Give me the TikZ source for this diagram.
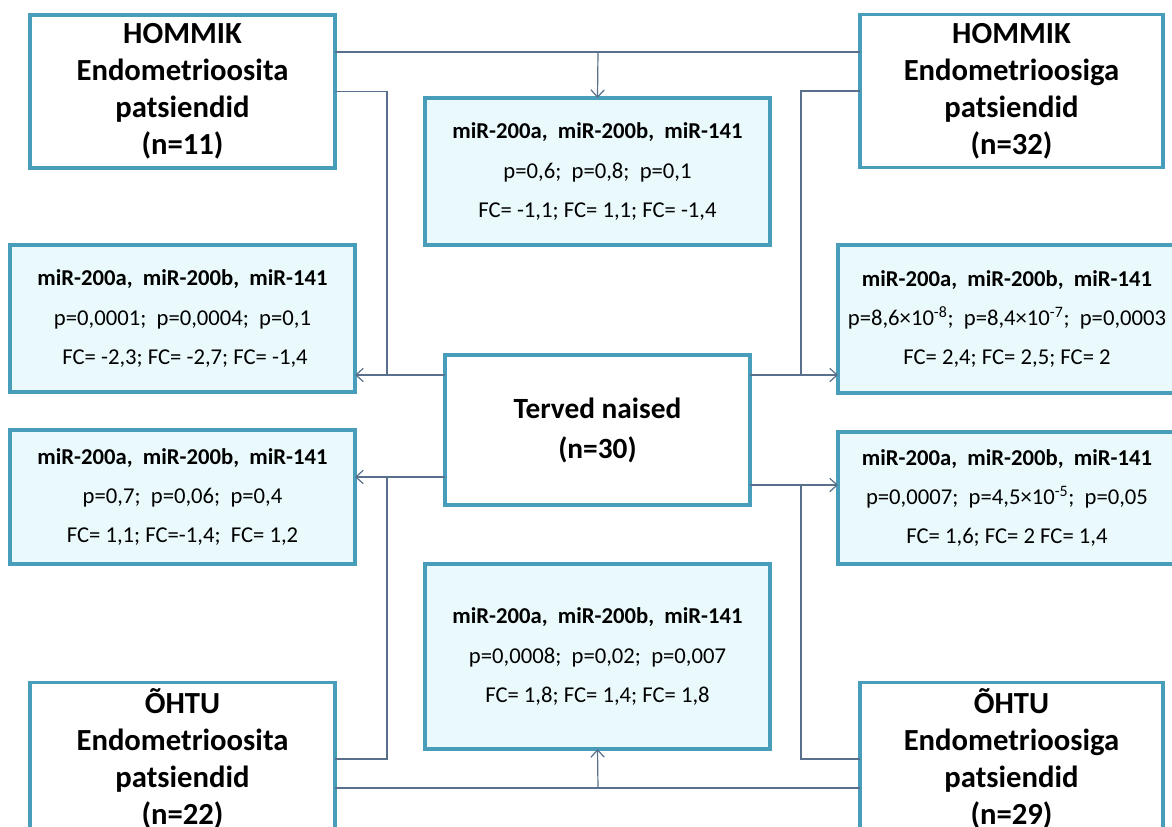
\documentclass[tikz,border=0pt]{standalone}
\usepackage{fontspec}
\setmainfont{Carlito}
\usetikzlibrary{arrows.meta}
\definecolor{boxline}{RGB}{72,158,186}
\definecolor{resfill}{RGB}{234,250,252}
\definecolor{connline}{RGB}{88,112,140}
\tikzset{
  grpbox/.style={draw=boxline,line width=2.5pt,fill=white,inner sep=0pt,outer sep=0pt,
    minimum width=228.75pt,minimum height=114.75pt,align=center,
    font=\fontsize{23}{27.75}\selectfont\bfseries},
  resbox/.style={draw=boxline,line width=2.5pt,fill=resfill,inner sep=0pt,outer sep=0pt,
    minimum width=258.75pt,align=center,font=\fontsize{17}{29.5}\selectfont},
  conn/.style={draw=connline,line width=0.9pt},
  arr/.style={conn,-{Straight Barb[length=5.5pt,width=10pt]}}
}
\newcommand{\mirline}{\textbf{miR-200a,~ miR-200b,~ miR-141}}
\begin{document}
\begin{tikzpicture}[x=0.75pt,y=0.75pt,yscale=-1,xscale=1]
\fill[white] (0,0) rectangle (1172,827);
\useasboundingbox (0,0) rectangle (1172,827);
%Shape: Group boxes
\node [grpbox] (hl) at (182.5,91.5) {HOMMIK\\Endometrioosita\\patsiendid\\(n=11)};
\node [grpbox,minimum width=227.25pt] (hr) at (1011.5,91) {HOMMIK\\Endometrioosiga\\patsiendid\\(n=32)};
\node [grpbox,minimum height=112.5pt,font=\fontsize{22}{30}\selectfont\bfseries] (tn) at (597.5,430) {Terved naised\\(n=30)};
\node [grpbox] (ol) at (182.5,759) {ÕHTU\\Endometrioosita\\patsiendid\\(n=22)};
\node [grpbox,minimum width=227.25pt] (or) at (1011.5,759) {ÕHTU\\Endometrioosiga\\patsiendid\\(n=29)};
%Shape: Result boxes
\node [resbox,minimum height=110.25pt] (rtop) at (597.5,171.5) {\mirline\\p=0,6;~ p=0,8;~ p=0,1\\FC= -1,1; FC= 1,1; FC= -1,4};
\node [resbox,minimum height=110.25pt] (rl1) at (182.5,318.5) {\mirline\\p=0,0001;~ p=0,0004;~ p=0,1\\~FC= -2,3; FC= -2,7; FC= -1,4};
\node [resbox,minimum height=100.5pt] (rl2) at (182.5,497) {\mirline\\p=0,7;~ p=0,06;~ p=0,4\\FC= 1,1; FC=-1,4;~ FC= 1,2};
\node [resbox,minimum width=253.5pt,minimum height=111pt] (rr1) at (1007,319) {\mirline\\p=8,6×10\textsuperscript{-8};~ p=8,4×10\textsuperscript{-7};~ p=0,0003\\FC= 2,4; FC= 2,5; FC= 2};
\node [resbox,minimum width=253.5pt,minimum height=99pt] (rr2) at (1007,498) {\mirline\\p=0,0007;~ p=4,5×10\textsuperscript{-5};~ p=0,05\\FC= 1,6; FC= 2 FC= 1,4};
\node [resbox,minimum height=138.75pt] (rbot) at (597.5,656.5) {\mirline\\p=0,0008;~ p=0,02;~ p=0,007\\FC= 1,8; FC= 1,4; FC= 1,8};
%Junctions
\coordinate (jt) at (598,52);
\coordinate (jb) at (598,788);
\coordinate (jl1) at (387,375);
\coordinate (jl2) at (387,477);
\coordinate (jr1) at (801,375);
\coordinate (jr2) at (801,485);
%Straight Lines
\draw [conn] (hl.east |- jt) -- (hr.west |- jt);
\draw [arr] (jt) -- (rtop.north);
\draw [conn] (ol.east |- jb) -- (or.west |- jb);
\draw [arr] (jb) -- (rbot.south);
\draw [conn] (hl.east) -| (jl1);
\draw [conn] (ol.east) -| (jl2);
\draw [conn] (hr.west) -| (jr1);
\draw [conn] (or.west) -| (jr2);
\draw [arr] (tn.west |- jl1) -- (rl1.east |- jl1);
\draw [arr] (tn.west |- jl2) -- (rl2.east |- jl2);
\draw [arr] (tn.east |- jr1) -- (rr1.west |- jr1);
\draw [arr] (tn.east |- jr2) -- (rr2.west |- jr2);
\end{tikzpicture}
\end{document}
